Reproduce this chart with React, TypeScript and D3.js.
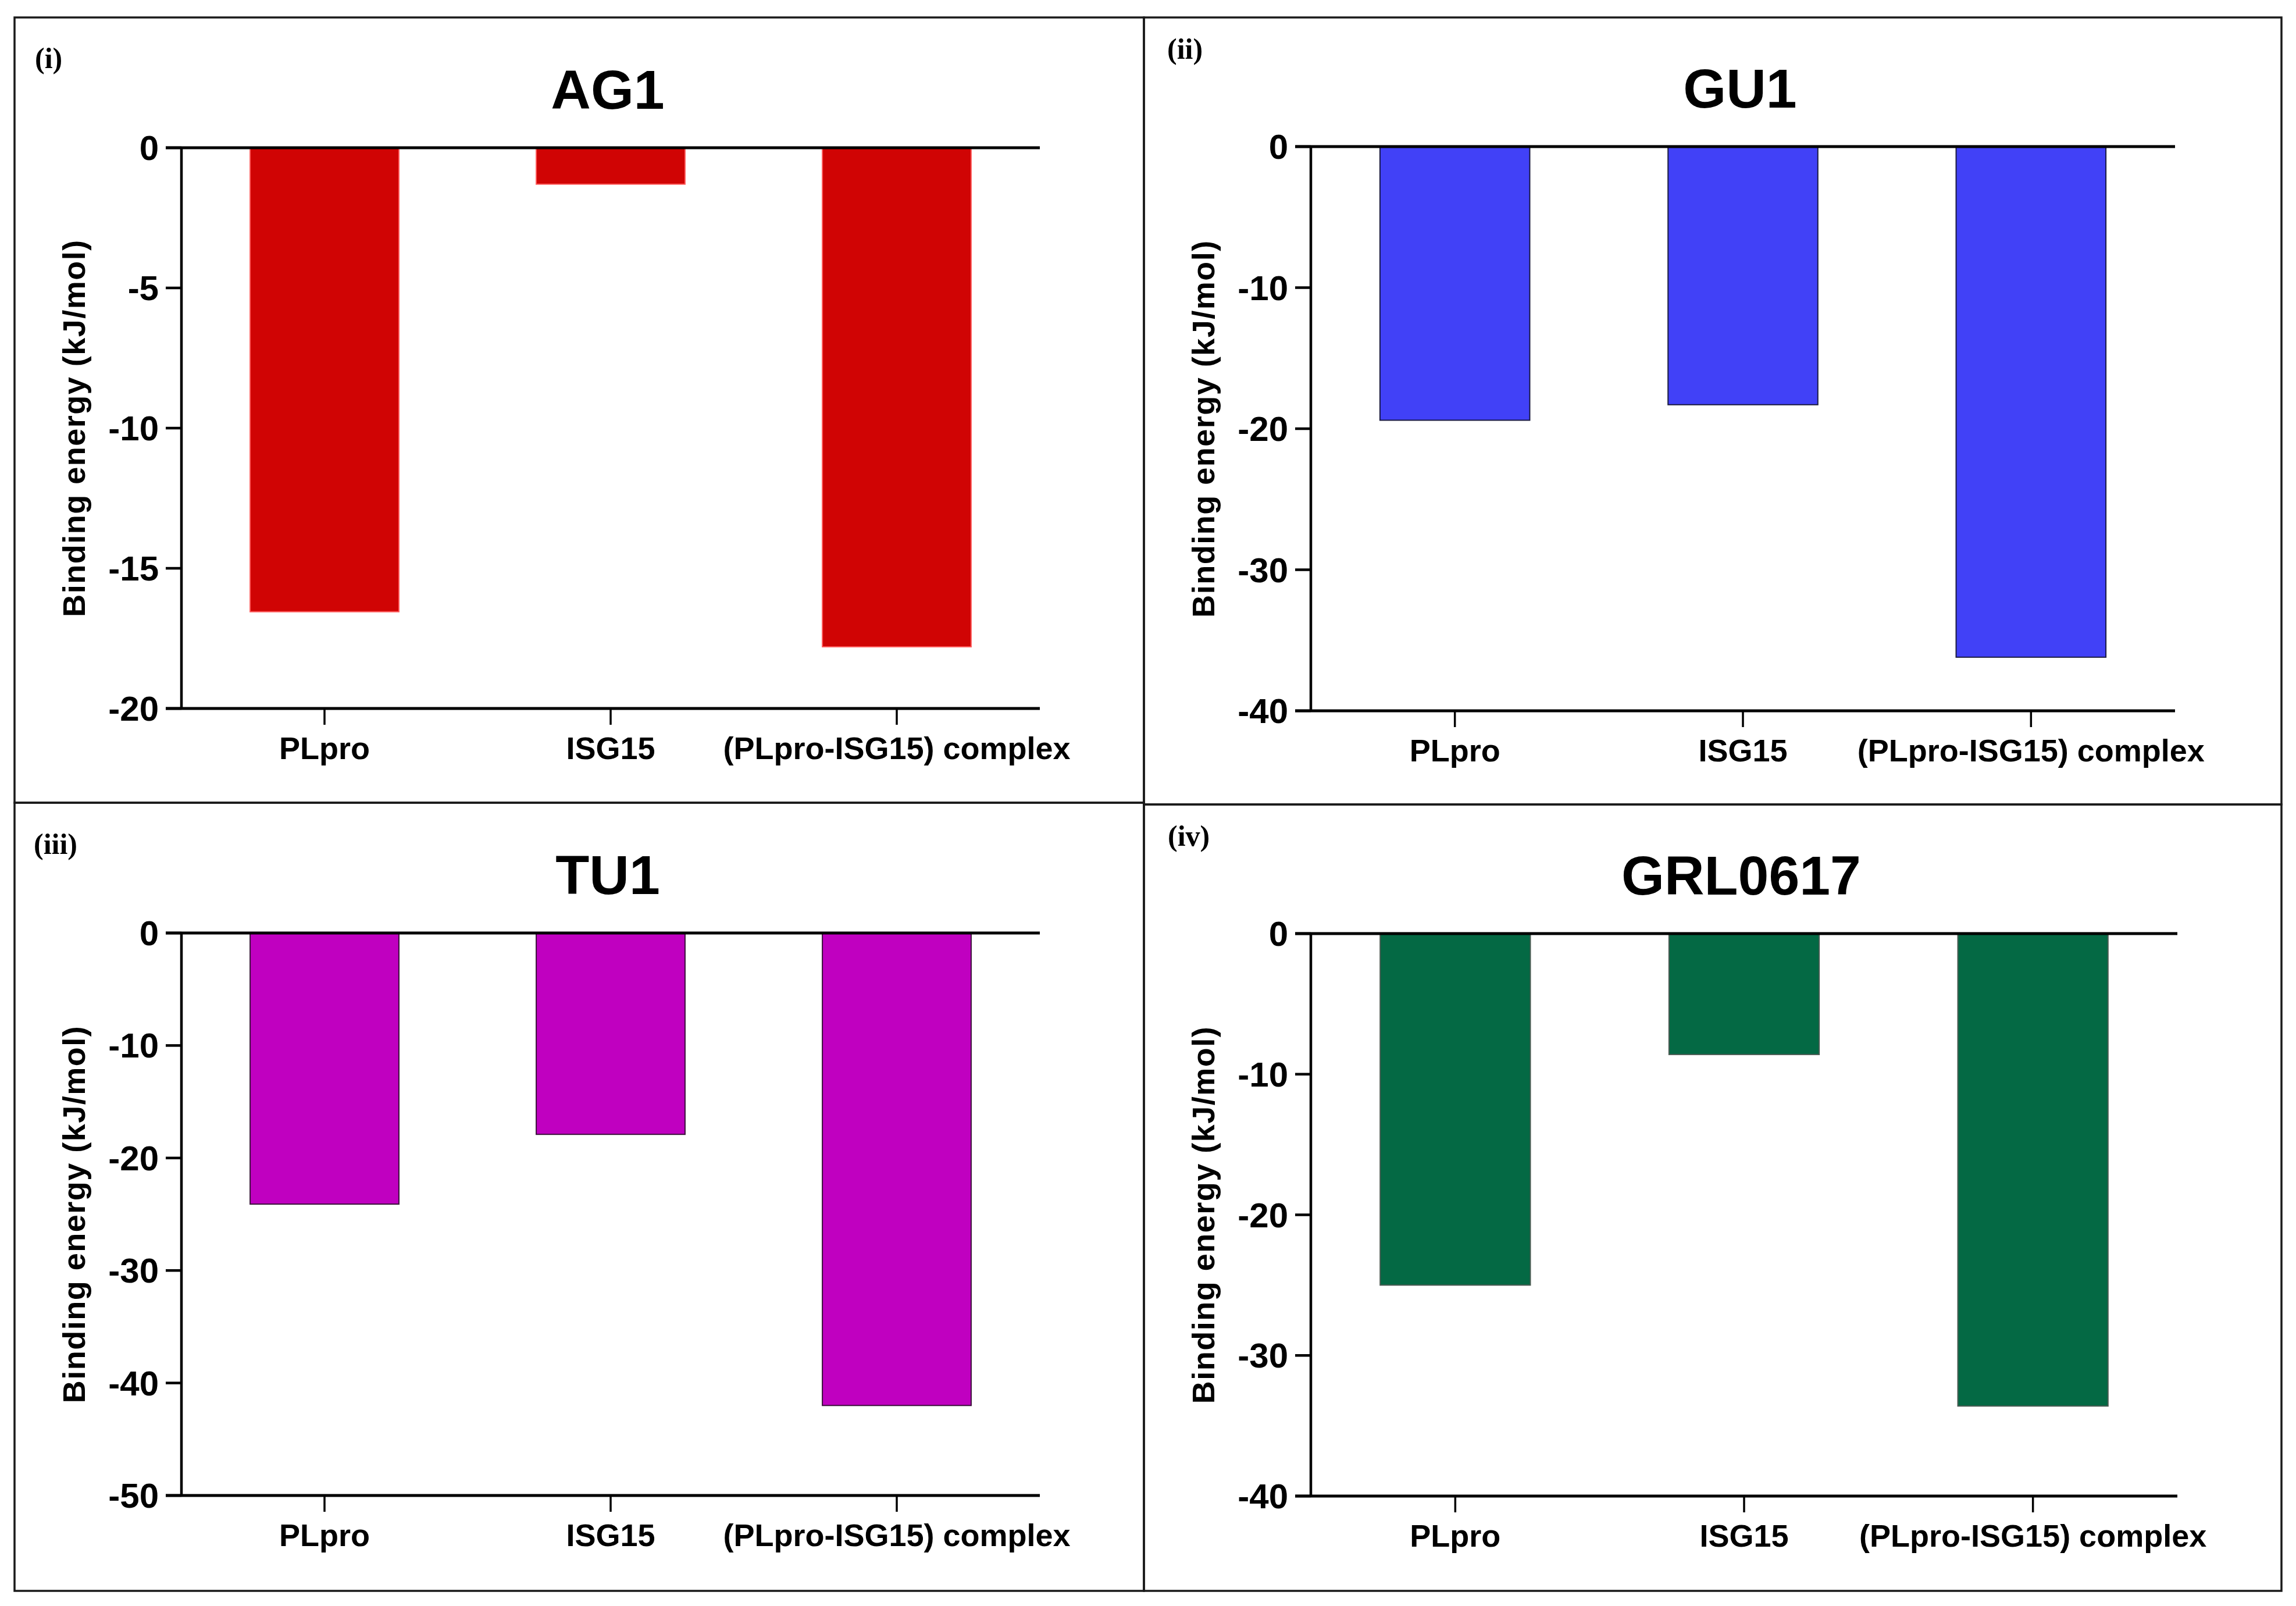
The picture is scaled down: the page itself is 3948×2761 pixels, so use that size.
import * as d3 from "d3";
import { useEffect, useRef } from "react";

// values (kJ/mol)
const categories = ["PLpro", "ISG15", "(PLpro-ISG15) complex"];
const ag1Values = [-16.55, -1.3, -17.8];
const gu1Values = [-19.4, -18.3, -36.2];
const tu1Values = [-24.1, -17.9, -42.0];
const grlValues = [-25.0, -8.6, -33.6];

const ag1Ticks = [0, -5, -10, -15, -20];
const gu1Ticks = [0, -10, -20, -30, -40];
const tu1Ticks = [0, -10, -20, -30, -40, -50];
const grlTicks = [0, -10, -20, -30, -40];

const titles = ["AG1", "GU1", "TU1", "GRL0617"];
const tags = ["(i)", "(ii)", "(iii)", "(iv)"];

const W = 3948;
const H = 2761;
const SANS = "'Liberation Sans', Arial, sans-serif";
const SERIF = "'Liberation Serif', 'Times New Roman', serif";

interface Panel {
  values: number[];
  ticks: number[];
  title: string;
  tag: string;
  fill: string;
  stroke: string;
  // frame
  x0: number; y0: number; x1: number; y1: number;
  // plot area
  ax: number; top: number; bottom: number; right: number;
  tagX: number; tagY: number;
}

const panels: Panel[] = [
  {
    values: ag1Values, ticks: ag1Ticks, title: titles[0], tag: tags[0],
    fill: "#d00404", stroke: "#ff5a5a",
    x0: 25, y0: 30, x1: 1967, y1: 1380,
    ax: 312, top: 254, bottom: 1218, right: 1788,
    tagX: 60, tagY: 117,
  },
  {
    values: gu1Values, ticks: gu1Ticks, title: titles[1], tag: tags[1],
    fill: "#4141f7", stroke: "#1a1a40",
    x0: 1967, y0: 30, x1: 3923, y1: 1383,
    ax: 2254, top: 252, bottom: 1222, right: 3740,
    tagX: 2007, tagY: 101,
  },
  {
    values: tu1Values, ticks: tu1Ticks, title: titles[2], tag: tags[2],
    fill: "#c000c0", stroke: "#3a103a",
    x0: 25, y0: 1380, x1: 1967, y1: 2735,
    ax: 312, top: 1604, bottom: 2571, right: 1788,
    tagX: 58, tagY: 1468,
  },
  {
    values: grlValues, ticks: grlTicks, title: titles[3], tag: tags[3],
    fill: "#046944", stroke: "#4a5a52",
    x0: 1967, y0: 1383, x1: 3923, y1: 2735,
    ax: 2254, top: 1605, bottom: 2572, right: 3744,
    tagX: 2008, tagY: 1454,
  },
];

export default function App() {
  const ref = useRef<SVGSVGElement>(null);

  useEffect(() => {
    if (!ref.current) return;
    const svg = d3.select(ref.current);
    svg.selectAll("*").remove();

    svg.append("rect").attr("width", W).attr("height", H).attr("fill", "#fff");

    panels.forEach((p) => {
      const g = svg.append("g");

      // frame
      g.append("rect")
        .attr("x", p.x0).attr("y", p.y0)
        .attr("width", p.x1 - p.x0).attr("height", p.y1 - p.y0)
        .attr("fill", "none").attr("stroke", "#1a1a1a").attr("stroke-width", 3.5);

      const minTick = d3.min(p.ticks) ?? -20;
      const y = d3.scaleLinear().domain([0, minTick]).range([p.top, p.bottom]);
      const x = d3.scaleBand<string>()
        .domain(categories)
        .range([p.ax, p.right])
        .paddingInner(0.48)
        .paddingOuter(0.24);

      // bars
      g.selectAll("rect.bar")
        .data(p.values)
        .join("rect")
        .attr("class", "bar")
        .attr("x", (_, i) => x(categories[i]) ?? 0)
        .attr("y", y(0))
        .attr("width", x.bandwidth())
        .attr("height", (d) => y(d) - y(0))
        .attr("fill", p.fill)
        .attr("stroke", p.stroke)
        .attr("stroke-width", 2);

      const tickLen = 27;

      // y axis line
      g.append("line")
        .attr("x1", p.ax).attr("x2", p.ax)
        .attr("y1", y(0)).attr("y2", y(minTick))
        .attr("stroke", "#000").attr("stroke-width", 4.5);

      // y ticks + labels
      p.ticks.forEach((t) => {
        g.append("line")
          .attr("x1", p.ax - tickLen).attr("x2", p.ax)
          .attr("y1", y(t)).attr("y2", y(t))
          .attr("stroke", "#000").attr("stroke-width", 4.5);
        g.append("text")
          .attr("x", p.ax - 39).attr("y", y(t)).attr("dy", "0.35em")
          .attr("text-anchor", "end")
          .attr("font-family", SANS).attr("font-weight", "bold")
          .attr("font-size", 60).attr("fill", "#000")
          .text(String(t));
      });

      // zero line and bottom category axis
      [0, minTick].forEach((v) => {
        g.append("line")
          .attr("x1", p.ax - tickLen).attr("x2", p.right)
          .attr("y1", y(v)).attr("y2", y(v))
          .attr("stroke", "#000").attr("stroke-width", 5);
      });

      categories.forEach((c) => {
        const cx = (x(c) ?? 0) + x.bandwidth() / 2;
        g.append("line")
          .attr("x1", cx).attr("x2", cx)
          .attr("y1", y(minTick)).attr("y2", y(minTick) + 28)
          .attr("stroke", "#000").attr("stroke-width", 3.5);
        g.append("text")
          .attr("x", cx).attr("y", y(minTick) + 87)
          .attr("text-anchor", "middle")
          .attr("font-family", SANS).attr("font-weight", "bold")
          .attr("font-size", 54).attr("fill", "#000")
          .text(c);
      });

      // y axis title
      const my = (y(0) + y(minTick)) / 2;
      g.append("text")
        .attr("transform", `translate(${p.x0 + 121},${my}) rotate(-90)`)
        .attr("text-anchor", "middle")
        .attr("font-family", SANS).attr("font-weight", "bold")
        .attr("font-size", 54).attr("letter-spacing", 1.5).attr("fill", "#000")
        .text("Binding energy (kJ/mol)");

      // chart title
      g.append("text")
        .attr("x", (p.ax + p.right) / 2 - 5).attr("y", y(0) - 67)
        .attr("text-anchor", "middle")
        .attr("font-family", SANS).attr("font-weight", "bold")
        .attr("font-size", 95).attr("fill", "#000")
        .text(p.title);

      // panel tag
      g.append("text")
        .attr("x", p.tagX).attr("y", p.tagY)
        .attr("font-family", SERIF).attr("font-weight", "bold")
        .attr("font-size", 50).attr("fill", "#000")
        .text(p.tag);
    });
  }, []);

  return (
    <svg
      ref={ref}
      width={W}
      height={H}
      style={{ position: "absolute", left: 0, top: 0, display: "block" }}
    />
  );
}
